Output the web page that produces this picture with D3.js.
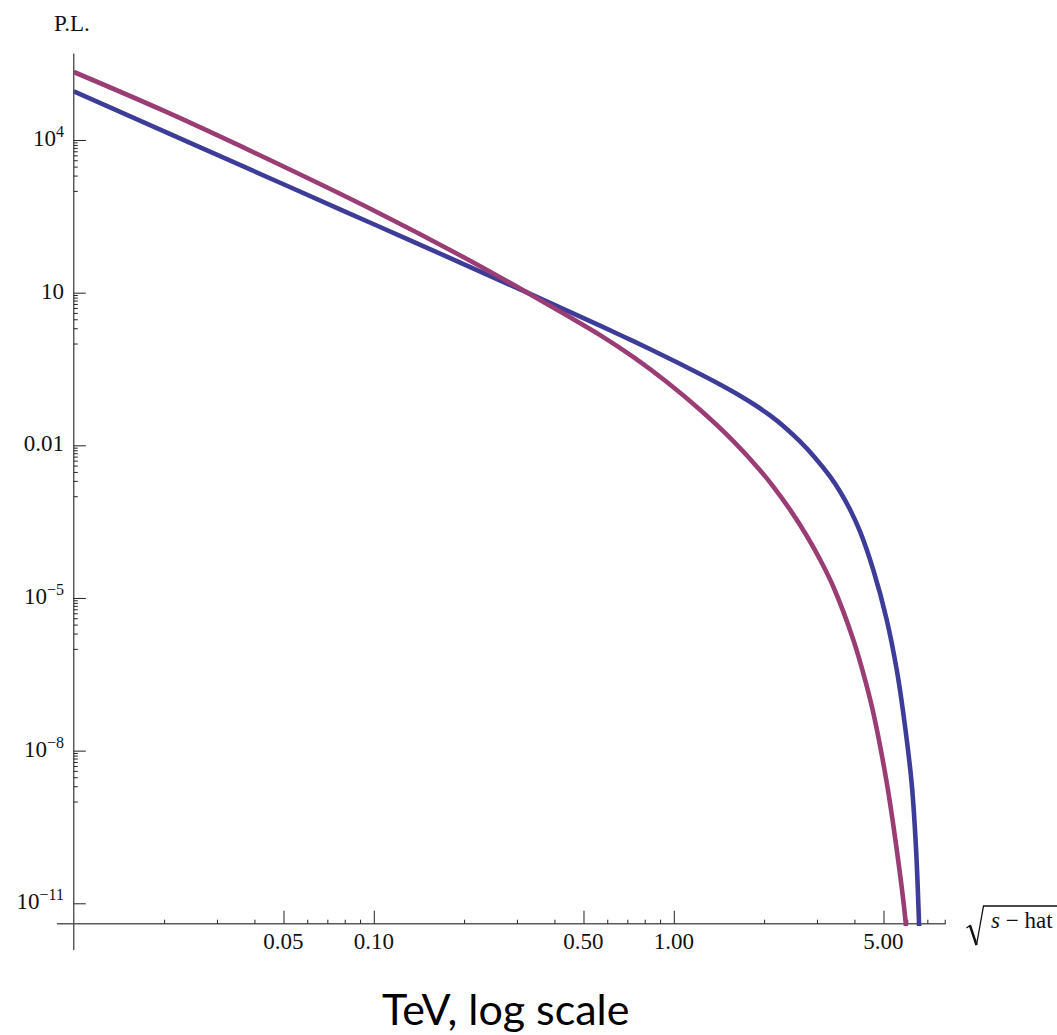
<!DOCTYPE html>
<html>
<head>
<meta charset="utf-8">
<script src="https://cdn.jsdelivr.net/npm/d3@7"></script>
<style>
  html, body { margin: 0; padding: 0; background: #fff; }
  svg { display: block; }
</style>
</head>
<body>
<svg id="chart" width="1057" height="1035"></svg>
<script>
// sqrt(s-hat) in TeV and the P.L. value for the first (blue) curve
const energyBlue = [0.01, 0.05, 0.1, 0.2, 0.325, 0.45, 0.57, 0.736, 0.95, 1.223, 1.426, 1.662, 1.865, 2.093,
                    2.348, 2.634, 2.956, 3.316, 3.581, 3.867, 4.175, 4.624, 5.125, 5.534, 5.821, 6.209,
                    6.418, 6.553, 6.592];
const plBlue = [9.0e4, 1349, 221, 36.1, 10, 4.18, 2.22, 1.10, 0.533, 0.2526, 0.1571, 0.0946, 0.0621, 0.03863,
                0.02245, 0.01191, 5.72e-3, 2.446e-3, 1.241e-3, 5.49e-4, 2.03e-4, 3.54e-5, 3.75e-6, 3.91e-7,
                5.43e-8, 2.23e-9, 1.20e-10, 6.02e-12, 2.03e-12];

// sqrt(s-hat) in TeV and the P.L. value for the second (magenta) curve
const energyPink = [0.01, 0.02, 0.05, 0.1, 0.2, 0.325, 0.441, 0.57, 0.736, 0.95, 1.223, 1.579, 1.938, 2.146,
                    2.44, 2.773, 3.071, 3.402, 3.966, 4.339, 4.624, 5.125, 5.534, 5.898, 5.966];
const plPink = [2.172e5, 3.72e4, 3019, 412.4, 49.2, 10, 3.548, 1.448, 0.5329, 0.1735, 0.05, 0.01213, 3.252e-3,
                1.541e-3, 5.44e-4, 1.671e-4, 5.72e-5, 1.663e-5, 1.512e-6, 2.496e-7, 5.56e-8, 2.373e-9,
                1.145e-10, 5.68e-12, 2.51e-12];

// axis ticks
const xMajorTicks = [0.05, 0.1, 0.5, 1, 5];
const xTickLabels = ["0.05", "0.10", "0.50", "1.00", "5.00"];
const xMinorTicks = [0.02, 0.03, 0.04, 0.06, 0.07, 0.08, 0.09, 0.2, 0.3, 0.4,
                     0.6, 0.7, 0.8, 0.9, 2, 3, 4, 6, 7, 8];
const yMajorTicks = [1e4, 10, 0.01, 1e-5, 1e-8, 1e-11];
const yTickBase = ["10", "10", "0.01", "10", "10", "10"];
const yTickExp = ["4", "", "", "\u22125", "\u22128", "\u221211"];
const yMinorDecades = [4, 1, -2, -5, -8];   // minor ticks at m·10^(k-1), m = 1..9

const colorBlue = "#3d3d99";
const colorPink = "#993d74";

const svg = d3.select("#chart");
svg.append("rect").attr("width", 1057).attr("height", 1035).attr("fill", "#fff");

const x = d3.scaleLog().domain([0.1, 1]).range([373.8, 673.8]);
const y = d3.scaleLog().domain([1e-11, 1e4]).range([903.3, 140]);

const x0 = x(0.01);          // vertical axis position
const yAxisPos = 923.7;       // horizontal axis position

const serif = "'Liberation Serif', 'Times New Roman', serif";
const labelSize = 23;

// axis lines
svg.append("line")
  .attr("x1", x0).attr("x2", x0)
  .attr("y1", y(5e5)).attr("y2", 950)
  .attr("stroke", "#222").attr("stroke-width", 1.1);
svg.append("line")
  .attr("x1", 57).attr("x2", x(8.05))
  .attr("y1", yAxisPos).attr("y2", yAxisPos)
  .attr("stroke", "#5a5a5a").attr("stroke-width", 1.4);

// y ticks
const yMinorTicks = [];
yMinorDecades.forEach(k => {
  for (let m = 1; m <= 9; m++) yMinorTicks.push(m * Math.pow(10, k - 1));
});

function styleAxis(g) {
  g.select(".domain").remove();
  g.selectAll(".tick line").attr("stroke", "#222").attr("stroke-width", 1);
}

svg.append("g")
  .attr("transform", `translate(${x0},0)`)
  .call(d3.axisRight(y).tickValues(yMajorTicks).tickSize(12).tickFormat(""))
  .call(styleAxis);
svg.append("g")
  .attr("transform", `translate(${x0},0)`)
  .call(d3.axisRight(y).tickValues(yMinorTicks).tickSize(4).tickFormat(""))
  .call(styleAxis);

// x ticks (pointing up from the axis)
svg.append("g")
  .attr("transform", `translate(0,${yAxisPos})`)
  .call(d3.axisTop(x).tickValues(xMajorTicks).tickSize(13).tickFormat(""))
  .call(styleAxis);
svg.append("g")
  .attr("transform", `translate(0,${yAxisPos})`)
  .call(d3.axisTop(x).tickValues(xMinorTicks).tickSize(4).tickFormat(""))
  .call(styleAxis);

// y tick labels
yMajorTicks.forEach((v, i) => {
  const t = svg.append("text")
    .attr("x", 64).attr("y", y(v) + 6)
    .attr("text-anchor", "end")
    .attr("font-family", serif).attr("font-size", labelSize).attr("fill", "#111");
  t.append("tspan").text(yTickBase[i]);
  if (yTickExp[i]) {
    t.append("tspan").attr("dy", -9).attr("font-size", 16).text(yTickExp[i]);
  }
});

// x tick labels
xMajorTicks.forEach((v, i) => {
  svg.append("text")
    .attr("x", x(v)).attr("y", 949)
    .attr("text-anchor", "middle")
    .attr("font-family", serif).attr("font-size", labelSize).attr("fill", "#111")
    .text(xTickLabels[i]);
});

// y axis title
svg.append("text")
  .attr("x", 54).attr("y", 31)
  .attr("font-family", serif).attr("font-size", labelSize).attr("fill", "#111")
  .text("P.L.");

// x axis title: sqrt(s - hat)
svg.append("path")
  .attr("d", "M966.5,928 L970,925.5 L976.5,945 L983.5,906 L1057,906")
  .attr("fill", "none").attr("stroke", "#111").attr("stroke-width", 1.3)
  .attr("stroke-linejoin", "miter");
svg.append("path")
  .attr("d", "M970,925.5 L976.5,945")
  .attr("fill", "none").attr("stroke", "#111").attr("stroke-width", 2.4);
const sh = svg.append("text")
  .attr("x", 991).attr("y", 928)
  .attr("font-family", serif).attr("font-size", labelSize).attr("fill", "#111");
sh.append("tspan").attr("font-style", "italic").text("s");
sh.append("tspan").text(" \u2212 hat");

// caption under the chart
svg.append("text")
  .attr("x", 382).attr("y", 1025)
  .attr("font-family", "Lato, 'Open Sans', sans-serif").attr("font-size", 43).attr("fill", "#000")
  .text("TeV, log scale");

// curves
svg.append("clipPath").attr("id", "plotClip")
  .append("rect").attr("x", x0).attr("y", 0).attr("width", 1057 - x0).attr("height", 926);

const line = d3.line()
  .x(d => x(d[0]))
  .y(d => y(d[1]))
  .curve(d3.curveCatmullRom.alpha(0.5));

const curves = [
  { e: energyBlue, p: plBlue, color: colorBlue },
  { e: energyPink, p: plPink, color: colorPink }
];

const plot = svg.append("g").attr("clip-path", "url(#plotClip)");
curves.forEach(c => {
  plot.append("path")
    .datum(c.e.map((e, i) => [e, c.p[i]]))
    .attr("d", line)
    .attr("fill", "none")
    .attr("stroke", c.color)
    .attr("stroke-width", 4.6)
    .attr("stroke-linejoin", "round");
});
</script>
</body>
</html>
